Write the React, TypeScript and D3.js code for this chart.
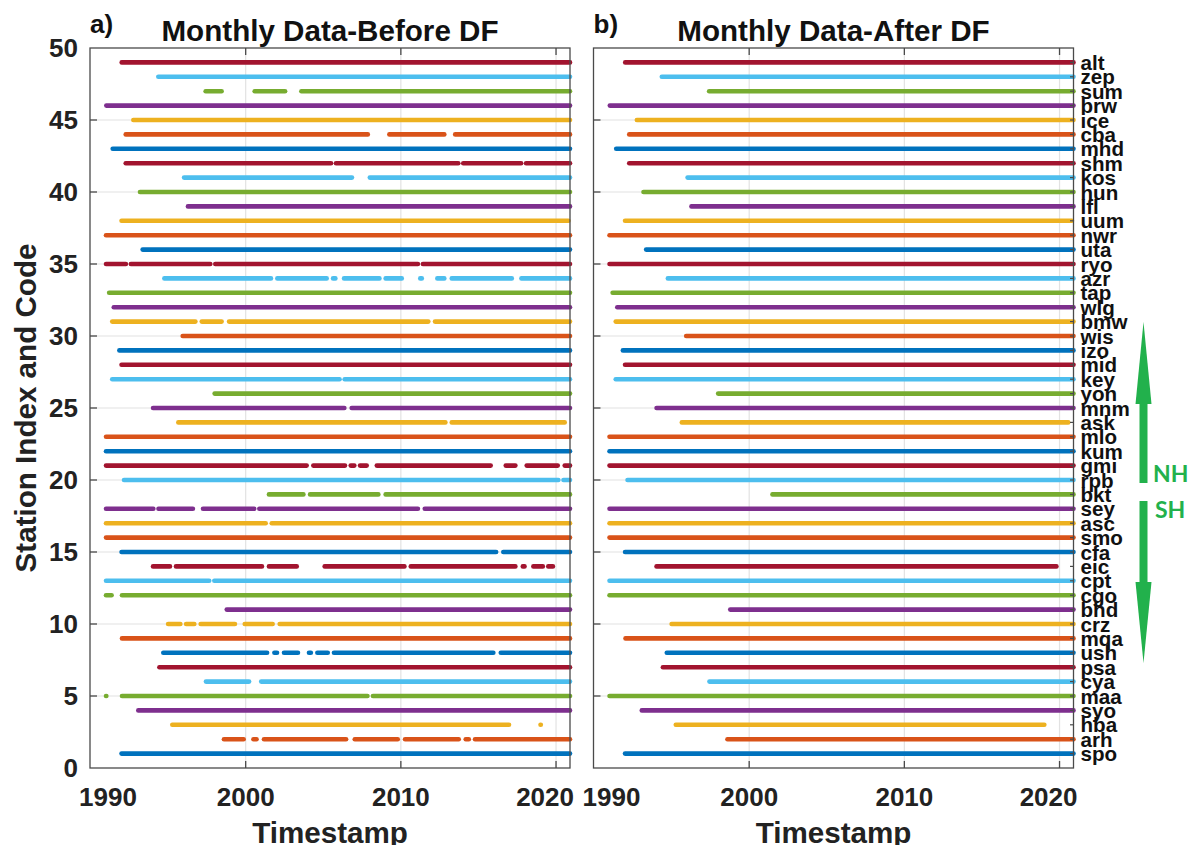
import React from 'react';
import * as d3 from 'd3';

// Station codes, index 1..49 (bottom to top)
const stationCodes: string[] = [
  'spo', 'arh', 'hba', 'syo', 'maa', 'cya', 'psa', 'ush', 'mqa', 'crz',
  'bhd', 'cgo', 'cpt', 'eic', 'cfa', 'smo', 'asc', 'sey', 'bkt', 'rpb',
  'gmi', 'kum', 'mlo', 'ask', 'mnm', 'yon', 'key', 'mid', 'izo', 'wis',
  'bmw', 'wlg', 'tap', 'azr', 'ryo', 'uta', 'nwr', 'uum', 'lfl', 'hun',
  'kos', 'shm', 'mhd', 'cba', 'ice', 'brw', 'sum', 'zep', 'alt',
];

// MATLAB default colour order
const seriesColors: string[] = ['#0072BD', '#D95319', '#EDB120', '#7E2F8E', '#77AC30', '#4DBEEE', '#A2142F'];

// Data availability (decimal years) before data filling, one list of [start, end] runs per station
const segmentsBefore: number[][][] = [
  [[1992.0, 2020.9]], // spo
  [[1998.6, 1999.87], [2000.5, 2000.7], [2001.18, 2006.47], [2007.03, 2009.8], [2010.27, 2013.73], [2014.18, 2014.38], [2014.78, 2020.9]], // arh
  [[1995.27, 2016.97], [2019.0, 2019.02]], // hba
  [[1993.08, 2020.9]], // syo
  [[1991.0, 1991.02], [1992.03, 2007.85], [2008.2, 2020.9]], // maa
  [[1997.44, 2000.22], [2001.0, 2020.9]], // cya
  [[1994.44, 2020.9]], // psa
  [[1994.69, 2001.38], [2001.85, 2002.02], [2002.47, 2003.37], [2004.08, 2004.2], [2004.62, 2005.29], [2005.69, 2015.96], [2016.44, 2020.9]], // ush
  [[1992.03, 2020.9]], // mqa
  [[1995.0, 1995.79], [1996.16, 1996.69], [1997.1, 1999.31], [1999.94, 2001.74], [2002.19, 2020.9]], // crz
  [[1998.78, 2020.9]], // bhd
  [[1991.0, 1991.36], [1992.03, 2020.9]], // cgo
  [[1991.0, 1997.65], [1997.98, 2020.9]], // cpt
  [[1994.03, 1995.12], [1995.51, 2001.05], [2001.5, 2003.29], [2005.09, 2010.23], [2010.64, 2017.38], [2017.86, 2017.97], [2018.54, 2019.15], [2019.5, 2019.8]], // eic
  [[1992.0, 2016.14], [2016.6, 2020.9]], // cfa
  [[1991.0, 2020.9]], // smo
  [[1991.0, 2001.29], [2001.68, 2020.9]], // asc
  [[1991.0, 1994.05], [1994.38, 1996.6], [1997.25, 2000.55], [2000.88, 2011.1], [2011.54, 2020.9]], // sey
  [[2001.5, 2003.72], [2004.15, 2008.55], [2009.02, 2020.9]], // bkt
  [[1992.16, 2020.15], [2020.48, 2020.9]], // rpb
  [[1991.0, 2003.93], [2004.36, 2006.4], [2006.77, 2007.0], [2007.37, 2007.8], [2008.45, 2015.79], [2016.76, 2017.38], [2018.11, 2020.11], [2020.56, 2020.9]], // gmi
  [[1991.0, 2020.9]], // kum
  [[1991.0, 2020.9]], // mlo
  [[1995.66, 2012.87], [2013.28, 2020.56]], // ask
  [[1994.03, 2006.36], [2006.83, 2020.9]], // mnm
  [[1998.0, 2020.9]], // yon
  [[1991.4, 2006.05], [2006.38, 2020.9]], // key
  [[1992.0, 2020.9]], // mid
  [[1991.86, 2020.9]], // izo
  [[1995.94, 2020.9]], // wis
  [[1991.4, 1996.76], [1997.17, 1998.45], [1998.93, 2011.77], [2012.2, 2020.9]], // bmw
  [[1991.5, 2020.9]], // wlg
  [[1991.2, 2020.9]], // tap
  [[1994.76, 2001.63], [2002.04, 2005.22], [2005.63, 2005.78], [2006.34, 2008.62], [2009.02, 2010.06], [2011.25, 2011.35], [2012.35, 2012.8], [2013.28, 2017.15], [2017.77, 2020.9]], // azr
  [[1991.0, 1992.28], [1992.6, 1997.72], [1998.04, 2011.1], [2011.42, 2020.9]], // ryo
  [[1993.36, 2020.9]], // uta
  [[1991.0, 2020.9]], // nwr
  [[1992.0, 2020.8]], // uum
  [[1996.28, 2020.9]], // lfl
  [[1993.19, 2020.9]], // hun
  [[1996.03, 2006.85], [2008.0, 2020.9]], // kos
  [[1992.27, 2005.5], [2005.82, 2013.7], [2014.02, 2017.75], [2018.07, 2020.9]], // shm
  [[1991.43, 2020.9]], // mhd
  [[1992.27, 2007.87], [2009.26, 2012.8], [2013.5, 2020.9]], // cba
  [[1992.76, 2020.9]], // ice
  [[1991.02, 2020.9]], // brw
  [[1997.42, 1998.45], [2000.58, 2002.54], [2003.59, 2020.9]], // sum
  [[1994.37, 2020.9]], // zep
  [[1992.01, 2020.9]], // alt
];

// After data filling: each record spans from its first to its last observation
const segmentsAfter: number[][][] = segmentsBefore.map((segs) => [
  [d3.min(segs, (s) => s[0]) as number, d3.max(segs, (s) => s[1]) as number],
]);

const yTicks: number[] = [0, 5, 10, 15, 20, 25, 30, 35, 40, 45, 50];
const xTicks: number[] = [1990, 2000, 2010, 2020];
const xTickLabels: string[] = ['1990', '2000', '2010', '2020'];

const FONT = '"Liberation Sans", Arial, Helvetica, sans-serif';
const TEXT = '#222222';
const AXIS = '#4a4a4a';
const GRID = '#e2e2e2';
const GREEN = '#22B14C';

const TOP = 48;
const BOTTOM = 768;

type PanelProps = {
  left: number;
  right: number;
  tag: string;
  title: string;
  segs: number[][][];
  yLabels: boolean;
  codeLabels: boolean;
};

function Panel({ left, right, tag, title, segs, yLabels, codeLabels }: PanelProps) {
  const x = d3.scaleLinear().domain([1990, 2020.9]).range([left + 0.5, right]);
  const y = d3.scaleLinear().domain([0, 50]).range([BOTTOM, TOP]);
  const cx = (left + right) / 2;
  const tickLen = 7;
  return (
    <g>
      {/* grid */}
      {xTicks.filter((t) => x(t) > left + 2 && x(t) < right - 2).map((t) => (
        <line key={'gx' + t} x1={x(t)} x2={x(t)} y1={TOP} y2={BOTTOM} stroke={GRID} strokeWidth={1.2} />
      ))}
      {yTicks.filter((t) => t > 0 && t < 50).map((t) => (
        <line key={'gy' + t} x1={left} x2={right} y1={y(t)} y2={y(t)} stroke={GRID} strokeWidth={1.2} />
      ))}
      {/* data */}
      {segs.map((runs, i) =>
        runs.map((r, j) => (
          <line
            key={'s' + i + '-' + j}
            x1={x(r[0])}
            x2={x(r[1])}
            y1={y(i + 1)}
            y2={y(i + 1)}
            stroke={seriesColors[i % seriesColors.length]}
            strokeWidth={4.6}
            strokeLinecap="round"
          />
        ))
      )}
      {/* frame */}
      <rect x={left} y={TOP} width={right - left} height={BOTTOM - TOP} fill="none" stroke={AXIS} strokeWidth={1.3} />
      {/* x ticks */}
      {xTicks.filter((t) => x(t) > left + 2 && x(t) < right - 2).map((t) => (
        <g key={'tx' + t}>
          <line x1={x(t)} x2={x(t)} y1={BOTTOM} y2={BOTTOM - tickLen} stroke={AXIS} strokeWidth={1.3} />
          <line x1={x(t)} x2={x(t)} y1={TOP} y2={TOP + tickLen} stroke={AXIS} strokeWidth={1.3} />
        </g>
      ))}
      {xTicks.map((t, k) => {
        let anchor: 'start' | 'middle' | 'end' = 'middle';
        let px = x(t);
        if (k === 0) {
          anchor = 'start';
          px = x(t) - 11.5;
        } else if (k === xTicks.length - 1) {
          anchor = 'end';
          px = right + 4;
        }
        return (
          <text key={'lx' + t} x={px} y={806} textAnchor={anchor} fontFamily={FONT} fontWeight="bold" fontSize={26} fill={TEXT}>
            {xTickLabels[k]}
          </text>
        );
      })}
      {/* y ticks */}
      {yTicks.filter((t) => t > 0 && t < 50).map((t) => (
        <line key={'ty' + t} x1={left} x2={left + tickLen} y1={y(t)} y2={y(t)} stroke={AXIS} strokeWidth={1.3} />
      ))}
      {yLabels &&
        yTicks.map((t) => (
          <text key={'ly' + t} x={78} y={y(t) + 9} textAnchor="end" fontFamily={FONT} fontWeight="bold" fontSize={26} fill={TEXT}>
            {t}
          </text>
        ))}
      {codeLabels &&
        stationCodes.map((c, i) => (
          <g key={'c' + c}>
            <line x1={right} x2={right - 3.5} y1={y(i + 1)} y2={y(i + 1)} stroke={AXIS} strokeWidth={1.2} />
            <text x={right + 7} y={y(i + 1) + 7.5} fontFamily={FONT} fontWeight="bold" fontSize={20.6} fill="#111">
              {c}
            </text>
          </g>
        ))}
      {/* titles */}
      <text x={left} y={33} fontFamily={FONT} fontWeight="bold" fontSize={26} fill="#111">
        {tag}
      </text>
      <text x={cx} y={41} textAnchor="middle" fontFamily={FONT} fontWeight="bold" fontSize={29.6} fill="#111">
        {title}
      </text>
      <text x={cx} y={843} textAnchor="middle" fontFamily={FONT} fontWeight="bold" fontSize={29.6} fill={TEXT}>
        Timestamp
      </text>
    </g>
  );
}

export default function App() {
  return (
    <svg
      width={1192}
      height={845}
      viewBox="0 0 1192 845"
      style={{ position: 'absolute', left: 0, top: 0, background: '#ffffff' }}
    >
      <rect x={0} y={0} width={1192} height={845} fill="#ffffff" />
      <Panel left={90} right={570} tag="a)" title="Monthly Data-Before DF" segs={segmentsBefore} yLabels={true} codeLabels={false} />
      <Panel left={593.5} right={1073.5} tag="b)" title="Monthly Data-After DF" segs={segmentsAfter} yLabels={false} codeLabels={true} />
      <text
        transform="translate(36,408) rotate(-90)"
        textAnchor="middle"
        fontFamily={FONT}
        fontWeight="bold"
        fontSize={29.6}
        fill={TEXT}
      >
        Station Index and Code
      </text>
      {/* hemisphere arrows */}
      <rect x={1139.5} y={400} width={8} height={83} fill={GREEN} />
      <polygon points="1135.5,404 1151.5,404 1143.5,322" fill={GREEN} />
      <rect x={1139.5} y={501} width={8} height={82} fill={GREEN} />
      <polygon points="1135.5,582 1151.5,582 1143.5,663" fill={GREEN} />
      <text x={1153} y={482} fontFamily='Lato, "Open Sans", sans-serif' fontWeight="bold" fontSize={23} fill={GREEN}>
        NH
      </text>
      <text x={1155} y={518} fontFamily='Lato, "Open Sans", sans-serif' fontWeight="bold" fontSize={23} fill={GREEN}>
        SH
      </text>
    </svg>
  );
}
